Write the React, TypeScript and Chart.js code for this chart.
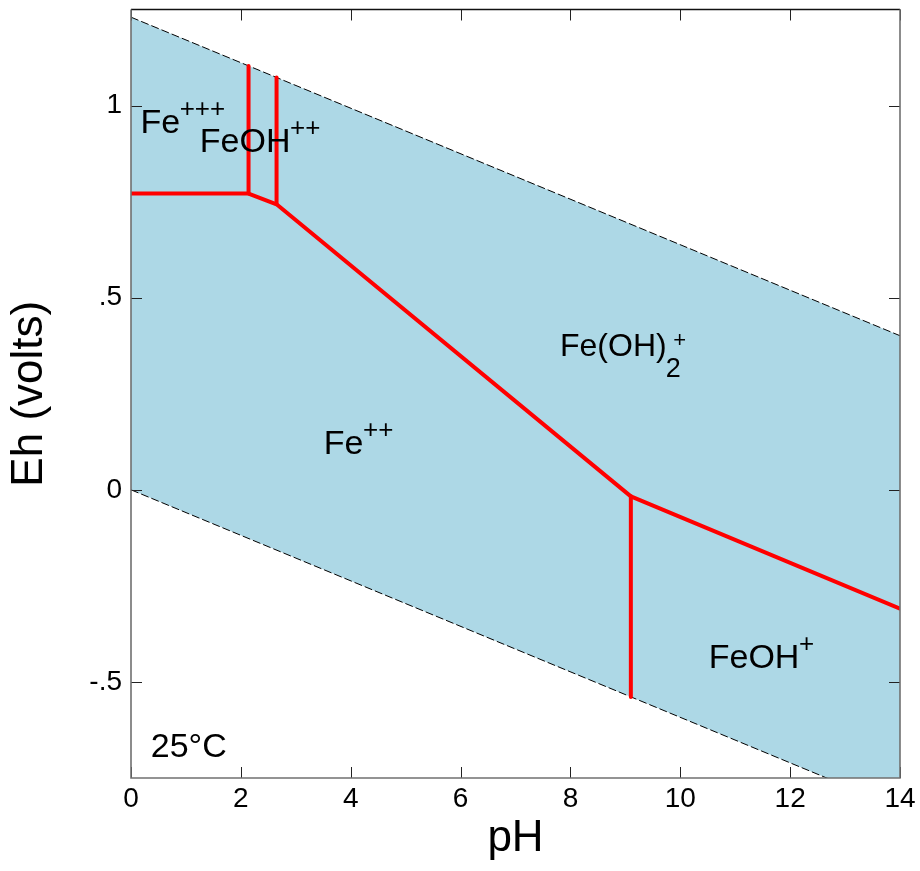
import { useEffect, useRef } from "react";
import { Chart, registerables } from "chart.js";

Chart.register(...registerables);

const FONT = '"Liberation Sans", Arial, sans-serif';

// Axis ticks
const xTickValues = [0, 2, 4, 6, 8, 10, 12, 14];
const yTickValues = [-0.5, 0, 0.5, 1];
const yTickLabels = ["-.5", "0", ".5", "1"];

// Water stability limits (O2/H2O upper, H2O/H2 lower)
const waterPH = [0, 14];
const o2LimitEh = [1.23, 0.401];
const h2LimitEh = [0, -0.829];

// Predominance boundaries (red)
const mainBoundaryPH = [0, 2.14, 2.65, 9.1, 14];
const mainBoundaryEh = [0.771, 0.771, 0.743, -0.017, -0.309];
const feOHBoundaryPH = [2.14, 2.14];
const feOHBoundaryEh = [0.771, 1.103];
const feOH2BoundaryPH = [2.65, 2.65];
const feOH2BoundaryEh = [0.743, 1.073];
const feOHplusBoundaryPH = [9.1, 9.1];
const feOHplusBoundaryEh = [-0.017, -0.539];

// Species labels (anchor = left end of text baseline, in pH / Eh)
const speciesNames = ["Fe", "FeOH", "Fe(OH)", "Fe", "FeOH"];
const speciesSup = ["+++", "++", "+", "++", "+"];
const speciesSub = ["", "", "2", "", ""];
const labelPH = [0.172, 1.252, 7.81, 3.51, 10.518];
const labelEh = [0.928, 0.88, 0.348, 0.0924, -0.463];

const tempLabel = "25°C";
const tempPH = 0.359;
const tempEh = -0.696;

const toPoints = (xs: number[], ys: number[]) => xs.map((v, i) => ({ x: v, y: ys[i] }));

const framePlugin = {
  id: "frameTicks",
  afterDatasetsDraw(chart: any) {
    const { ctx, chartArea, scales } = chart;
    const { left, right, top, bottom } = chartArea;
    const xs = scales.x;
    const ys = scales.y;
    const tl = 11;
    ctx.save();
    ctx.strokeStyle = "#222";
    ctx.lineWidth = 1;
    ctx.beginPath();
    xTickValues.forEach((v) => {
      const px = Math.round(xs.getPixelForValue(v)) + 0.5;
      ctx.moveTo(px, bottom);
      ctx.lineTo(px, bottom - tl);
      ctx.moveTo(px, top);
      ctx.lineTo(px, top + tl);
    });
    yTickValues.forEach((v) => {
      const py = Math.round(ys.getPixelForValue(v)) + 0.5;
      ctx.moveTo(left, py);
      ctx.lineTo(left + tl, py);
      ctx.moveTo(right, py);
      ctx.lineTo(right - tl, py);
    });
    ctx.stroke();
    // frame
    ctx.strokeStyle = "#111";
    ctx.lineWidth = 1.3;
    ctx.beginPath();
    ctx.moveTo(left, top);
    ctx.lineTo(right, top);
    ctx.stroke();
    ctx.strokeStyle = "#707070";
    ctx.lineWidth = 1.6;
    ctx.beginPath();
    ctx.moveTo(left, top);
    ctx.lineTo(left, bottom);
    ctx.lineTo(right, bottom);
    ctx.lineTo(right, top);
    ctx.stroke();
    ctx.restore();
  },
};

const labelPlugin = {
  id: "speciesLabels",
  afterDatasetsDraw(chart: any) {
    const { ctx, scales } = chart;
    const xs = scales.x;
    const ys = scales.y;
    ctx.save();
    ctx.fillStyle = "#000";
    ctx.textAlign = "left";
    ctx.textBaseline = "alphabetic";
    speciesNames.forEach((name, i) => {
      const px = xs.getPixelForValue(labelPH[i]);
      const py = ys.getPixelForValue(labelEh[i]);
      const stacked = speciesSub[i] !== "";
      ctx.font = `${stacked ? 32 : 34}px ${FONT}`;
      ctx.fillText(name, px, py);
      const w = ctx.measureText(name).width;
      if (stacked) {
        ctx.font = `27px ${FONT}`;
        ctx.fillText(speciesSub[i], px + w - 1, py + 20.7);
        ctx.font = `22px ${FONT}`;
        ctx.fillText(speciesSup[i], px + w + 6.5, py - 9);
      } else {
        ctx.font = `26px ${FONT}`;
        ctx.fillText(speciesSup[i], px + w - 0.5, py - 16);
      }
    });
    ctx.font = `34px ${FONT}`;
    ctx.fillText(tempLabel, xs.getPixelForValue(tempPH), ys.getPixelForValue(tempEh));
    ctx.restore();
  },
};

export default function App() {
  const canvasRef = useRef<HTMLCanvasElement | null>(null);

  useEffect(() => {
    if (!canvasRef.current) return;
    const red = "#ff0000";
    const redLine = (data: any[]) => ({
      data,
      showLine: true,
      borderColor: red,
      backgroundColor: red,
      borderWidth: 4,
      pointRadius: 0,
      borderCapStyle: "round",
      borderJoinStyle: "round",
      fill: false,
      order: 1,
    });
    const chart = new Chart(canvasRef.current, {
      type: "scatter",
      data: {
        datasets: [
          redLine(toPoints(mainBoundaryPH, mainBoundaryEh)),
          redLine(toPoints(feOHBoundaryPH, feOHBoundaryEh)),
          redLine(toPoints(feOH2BoundaryPH, feOH2BoundaryEh)),
          redLine(toPoints(feOHplusBoundaryPH, feOHplusBoundaryEh)),
          {
            data: toPoints(waterPH, o2LimitEh),
            showLine: true,
            borderColor: "#000",
            borderWidth: 1,
            borderDash: [8, 3],
            pointRadius: 0,
            fill: "+1",
            backgroundColor: "#add8e6",
            order: 2,
          },
          {
            data: toPoints(waterPH, h2LimitEh),
            showLine: true,
            borderColor: "#000",
            borderWidth: 1,
            borderDash: [8, 3],
            pointRadius: 0,
            fill: false,
            order: 2,
          },
        ] as any,
      },
      options: {
        animation: false,
        responsive: false,
        layout: { padding: { top: 9.5, right: 20, left: 0, bottom: 0 } },
        plugins: {
          legend: { display: false },
          tooltip: { enabled: false },
          filler: { drawTime: "beforeDatasetsDraw" } as any,
        },
        scales: {
          x: {
            type: "linear",
            min: 0,
            max: 14,
            grid: { display: false, drawTicks: false },
            border: { display: false },
            afterBuildTicks: (scale: any) => {
              scale.ticks = xTickValues.map((v) => ({ value: v }));
            },
            afterFit: (scale: any) => {
              scale.height = 93;
              scale.paddingLeft = 0;
              scale.paddingRight = 0;
              scale.paddingTop = 0;
              scale.paddingBottom = 0;
            },
            ticks: {
              padding: 4,
              color: "#000",
              font: { family: FONT, size: 28 },
              maxRotation: 0,
              callback: (v: any) => String(v),
            },
            title: {
              display: true,
              text: "pH",
              color: "#000",
              font: { family: FONT, size: 44 },
              padding: { top: 0, bottom: 6 },
            },
          },
          y: {
            type: "linear",
            min: -0.75,
            max: 1.25,
            grid: { display: false, drawTicks: false },
            border: { display: false },
            afterBuildTicks: (scale: any) => {
              scale.ticks = yTickValues.map((v) => ({ value: v }));
            },
            afterFit: (scale: any) => {
              scale.width = 131;
              scale.paddingLeft = 0;
              scale.paddingRight = 0;
              scale.paddingTop = 0;
              scale.paddingBottom = 0;
            },
            ticks: {
              padding: 9,
              color: "#000",
              font: { family: FONT, size: 28 },
              callback: (v: any) => {
                const idx = yTickValues.findIndex((t) => Math.abs(t - Number(v)) < 1e-9);
                return idx >= 0 ? yTickLabels[idx] : "";
              },
            },
            title: {
              display: true,
              text: "Eh (volts)",
              color: "#000",
              font: { family: FONT, size: 44 },
              padding: { top: 3.5, bottom: 0 },
            },
          },
        },
      },
      plugins: [framePlugin, labelPlugin],
    });
    return () => chart.destroy();
  }, []);

  return (
    <div style={{ position: "absolute", left: 0, top: 0, width: 920, height: 871, background: "#fff" }}>
      <canvas ref={canvasRef} width={920} height={871} style={{ display: "block" }} />
    </div>
  );
}
